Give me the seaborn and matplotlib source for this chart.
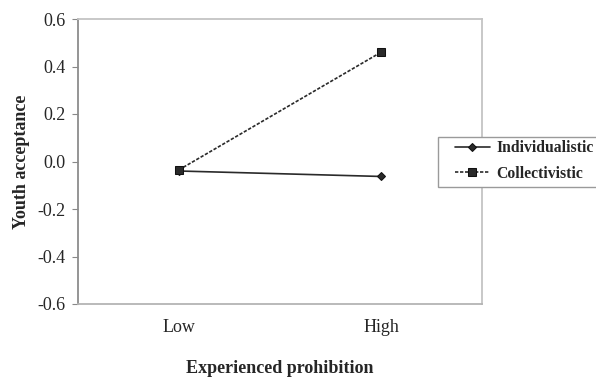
import matplotlib
matplotlib.use("Agg")
import matplotlib.pyplot as plt
from matplotlib.patches import Rectangle
import seaborn as sns
import pandas as pd

categories = ["Low", "High"]
individualistic = [-0.040, -0.063]
collectivistic = [-0.035, 0.460]
yticks = [-0.6, -0.4, -0.2, 0.0, 0.2, 0.4, 0.6]

df = pd.DataFrame({
    "prohibition": categories * 2,
    "acceptance": individualistic + collectivistic,
    "culture": ["Individualistic"] * 2 + ["Collectivistic"] * 2,
})

sns.set_style("white")
plt.rcParams["font.family"] = ["Liberation Serif", "DejaVu Serif"]

fig = plt.figure(figsize=(5.96, 3.80), dpi=100)
ax = fig.add_axes([78/596, 1-304/380, 404/596, 285/380])

sns.lineplot(data=df, x="prohibition", y="acceptance", style="culture",
             markers={"Individualistic": "D", "Collectivistic": "s"},
             dashes={"Individualistic": "", "Collectivistic": (2, 1)},
             color="#2a2a2a", linewidth=1.2, markersize=5.5,
             markeredgecolor="#111111", ax=ax, legend=False)
ax.lines[0].set_markersize(4)

ax.set_xlim(-0.5, 1.5)
ax.set_ylim(-0.6, 0.6)
ax.set_yticks(yticks)
ax.set_yticklabels([f"{v:.1f}" for v in yticks])
ax.tick_params(axis="y", length=4, width=0.8, color="#888888", labelsize=13, pad=5, left=True)
ax.tick_params(axis="x", length=0, labelsize=13, pad=11)

ax.spines["left"].set_color("#8c8c8c")
ax.spines["bottom"].set_color("#b4b4b4")
for s in ["top", "right"]:
    ax.spines[s].set_color("#c4c4c4")
for s in ax.spines.values():
    s.set_linewidth(1.3)

ax.set_xlabel("Experienced prohibition", fontsize=13, fontweight="bold", labelpad=17)
ax.set_ylabel("Youth acceptance", fontsize=13, fontweight="bold", labelpad=5)

# legend frame (extends past the right edge, as in the reference)
fig.patches.append(Rectangle((438/596, 1-187/380), 170/596, 50/380,
                             transform=fig.transFigure, facecolor="white",
                             edgecolor="#9a9a9a", linewidth=1.0, zorder=1))
handles = ax.lines[:2]
leg = fig.legend(handles, ["Individualistic", "Collectivistic"],
                 loc="center left", bbox_to_anchor=(455/596, 1-161/380),
                 bbox_transform=fig.transFigure,
                 prop={"weight": "bold", "size": 11.3},
                 frameon=False, handlelength=2.2, handletextpad=0.45,
                 borderpad=0, labelspacing=0.6, borderaxespad=0)

fig.savefig("out.png", dpi=100, facecolor="white")
